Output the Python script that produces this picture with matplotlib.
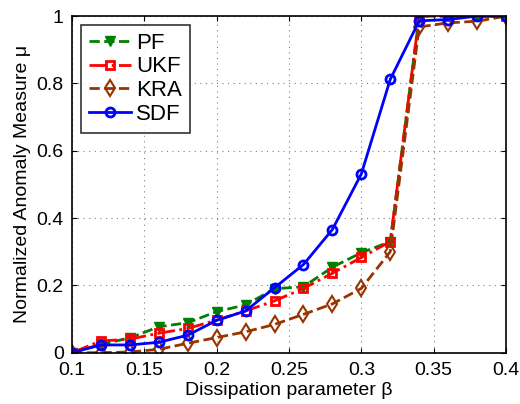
import numpy as np
import matplotlib.pyplot as plt

plt.rcParams['font.family'] = ['Liberation Sans', 'DejaVu Sans']

beta = [0.10, 0.12, 0.14, 0.16, 0.18, 0.20, 0.22, 0.24, 0.26, 0.28, 0.30, 0.32, 0.34, 0.36, 0.38, 0.40]
pf = [0.0, 0.025, 0.044, 0.077, 0.089, 0.122, 0.142, 0.19, 0.196, 0.254, 0.297, 0.33, 1.0, 1.0, 1.0, 1.0]
ukf = [0.0, 0.035, 0.04, 0.058, 0.072, 0.097, 0.124, 0.154, 0.191, 0.236, 0.283, 0.33, 1.0, 1.0, 1.0, 1.0]
kra = [0.0, 0.0, 0.002, 0.01, 0.028, 0.045, 0.062, 0.084, 0.114, 0.145, 0.191, 0.30, 0.968, 0.98, 0.985, 1.0]
sdf = [0.0, 0.023, 0.023, 0.031, 0.052, 0.096, 0.124, 0.193, 0.262, 0.366, 0.531, 0.812, 0.986, 0.99, 1.0, 1.0]

fig = plt.figure(figsize=(5.2, 4.04), dpi=100)
ax = fig.add_axes([0.1385, 0.127, 0.8345, 0.833])

ax.plot(beta, pf, '--v', color=(0, 0.5, 0), lw=2, ms=7, mfc=(0, 0.5, 0), label='PF')
ax.plot(beta, ukf, '-.s', color='red', lw=2, ms=6, mfc='none', mew=2, label='UKF')
ax.plot(beta, kra, '--d', color=(0.6, 0.2, 0), lw=2, ms=8, mfc='none', mew=1.5, label='KRA')
ax.plot(beta, sdf, '-o', color='blue', lw=2, ms=6.5, mfc='none', mew=2, label='SDF')

ax.set_xlim(0.1, 0.4)
ax.set_ylim(0, 1)
ax.set_xticks([0.1, 0.15, 0.2, 0.25, 0.3, 0.35, 0.4])
ax.set_xticklabels(['0.1', '0.15', '0.2', '0.25', '0.3', '0.35', '0.4'])
ax.set_yticks([0, 0.2, 0.4, 0.6, 0.8, 1])
ax.set_yticklabels(['0', '0.2', '0.4', '0.6', '0.8', '1'])
ax.tick_params(direction='in', top=True, right=True, labelsize=14)
ax.tick_params(axis='x', pad=7)
ax.tick_params(axis='y', pad=6)
ax.grid(True, linestyle=(0, (1, 4)), color='gray', lw=0.8)
for s in ax.spines.values():
    s.set_linewidth(1.2)

ax.set_xlabel('Dissipation parameter β', fontsize=14, labelpad=2)
ax.set_ylabel('Normalized Anomaly Measure μ', fontsize=14, labelpad=4)

leg = ax.legend(loc='upper left', fontsize=16, fancybox=False, edgecolor='black',
                handlelength=1.9, borderpad=0.35, labelspacing=0.12, handletextpad=0.25,
                borderaxespad=0.4)
leg.get_frame().set_linewidth(1.2)

fig.savefig('out.png', dpi=100)
